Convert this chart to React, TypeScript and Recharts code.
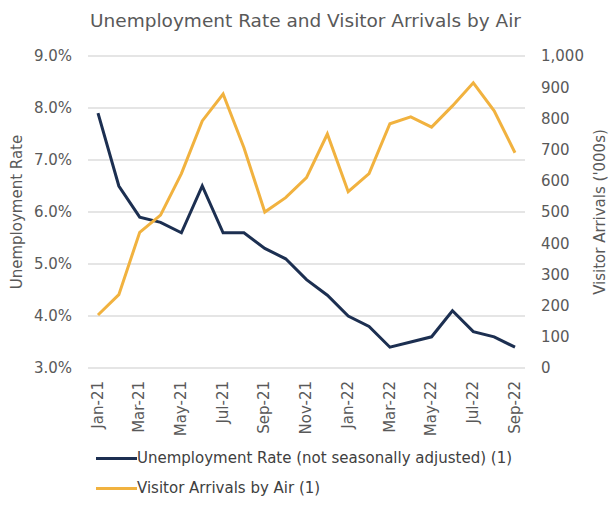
import { CartesianGrid, Legend, Line, LineChart, XAxis, YAxis } from "recharts";

const months = [
  "Jan-21", "Feb-21", "Mar-21", "Apr-21", "May-21", "Jun-21", "Jul-21",
  "Aug-21", "Sep-21", "Oct-21", "Nov-21", "Dec-21", "Jan-22", "Feb-22",
  "Mar-22", "Apr-22", "May-22", "Jun-22", "Jul-22", "Aug-22", "Sep-22",
];

const unemployment = [
  7.9, 6.5, 5.9, 5.8, 5.6, 6.5, 5.6, 5.6, 5.3, 5.1, 4.7, 4.4, 4.0, 3.8, 3.4,
  3.5, 3.6, 4.1, 3.7, 3.6, 3.4,
];

const visitors = [
  170, 235, 435, 490, 623, 792, 878, 706, 500, 546, 610, 750, 565, 623, 783,
  805, 772, 840, 914, 824, 690,
];

const leftTicks = [3, 4, 5, 6, 7, 8, 9];
const rightTicks = [0, 100, 200, 300, 400, 500, 600, 700, 800, 900, 1000];

const NAVY = "#1c2f51";
const GOLD = "#f1b23f";
const TEXT = "#595959";
const FONT = "'DejaVu Sans', Arial, sans-serif";

const data = months.map((m, i) => ({
  month: m,
  rate: unemployment[i],
  arrivals: visitors[i],
}));

const legendItems = [
  { name: "Unemployment Rate (not seasonally adjusted) (1)", color: NAVY },
  { name: "Visitor Arrivals by Air (1)", color: GOLD },
];

function ChartLegend() {
  return (
    <div style={{ paddingLeft: 96, marginTop: -5, fontFamily: FONT, fontSize: 15, color: "#404040" }}>
      {legendItems.map((item) => (
        <div key={item.name} style={{ display: "flex", alignItems: "center", height: 30 }}>
          <span style={{ width: 41, height: 3, background: item.color, display: "inline-block" }} />
          <span>{item.name}</span>
        </div>
      ))}
    </div>
  );
}

export default function App() {
  return (
    <div style={{ position: "absolute", left: 0, top: 0, width: 611, height: 510, background: "#fff" }}>
      <div
        style={{
          position: "absolute",
          top: 10,
          width: 611,
          textAlign: "center",
          fontFamily: FONT,
          fontSize: 18.5,
          color: TEXT,
        }}
      >
        Unemployment Rate and Visitor Arrivals by Air
      </div>
      <LineChart
        width={611}
        height={510}
        data={data}
        margin={{ top: 56, right: 0, left: 0, bottom: 2 }}
        style={{ fontFamily: FONT }}
      >
        <CartesianGrid yAxisId="left" vertical={false} stroke="#dcdcdc" strokeWidth={1.5} />
        <XAxis
          dataKey="month"
          interval={1}
          axisLine={false}
          tickLine={false}
          padding={{ left: 10, right: 10 }}
          height={80}
          angle={-90}
          textAnchor="end"
          dx={-6}
          dy={5}
          tick={{ fill: TEXT, fontSize: 15 }}
        />
        <YAxis
          yAxisId="left"
          domain={[3, 9]}
          ticks={leftTicks}
          width={88}
          axisLine={false}
          tickLine={false}
          tickMargin={10}
          tickFormatter={(v: number) => `${v.toFixed(1)}%`}
          tick={{ fill: TEXT, fontSize: 15 }}
          label={{
            value: "Unemployment Rate",
            angle: -90,
            position: "insideLeft",
            offset: 17,
            style: { textAnchor: "middle", fill: TEXT, fontSize: 15 },
          }}
        />
        <YAxis
          yAxisId="right"
          orientation="right"
          domain={[0, 1000]}
          ticks={rightTicks}
          width={86}
          axisLine={false}
          tickLine={false}
          tickMargin={10}
          tickFormatter={(v: number) => v.toLocaleString("en-US")}
          tick={{ fill: TEXT, fontSize: 15 }}
          label={{
            value: "Visitor Arrivals ('000s)",
            angle: -90,
            position: "insideRight",
            offset: 11,
            style: { textAnchor: "middle", fill: TEXT, fontSize: 15 },
          }}
        />
        <Legend
          verticalAlign="bottom"
          align="left"
          height={60}
          content={() => <ChartLegend />}
        />
        <Line
          yAxisId="left"
          dataKey="rate"
          stroke={NAVY}
          strokeWidth={3}
          dot={false}
          type="linear"
          isAnimationActive={false}
        />
        <Line
          yAxisId="right"
          dataKey="arrivals"
          stroke={GOLD}
          strokeWidth={3}
          dot={false}
          type="linear"
          isAnimationActive={false}
        />
      </LineChart>
    </div>
  );
}
